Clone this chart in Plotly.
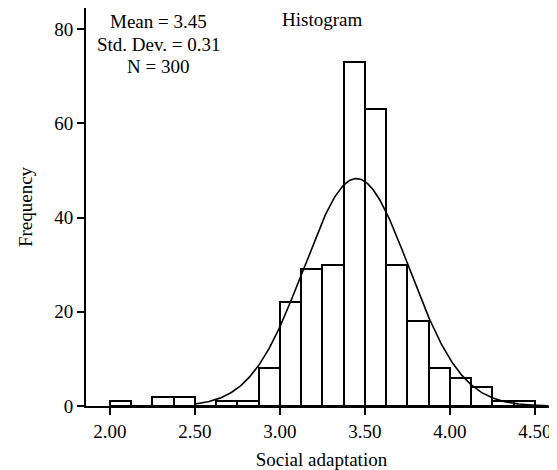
import numpy as np
import plotly.graph_objects as go

# Histogram bins (left edges) and counts
bin_width = 0.125
bin_lefts = [2.0, 2.125, 2.25, 2.375, 2.5, 2.625, 2.75, 2.875, 3.0, 3.125, 3.25,
             3.375, 3.5, 3.625, 3.75, 3.875, 4.0, 4.125, 4.25, 4.375]
counts = [1, 0, 2, 2, 0, 1, 1, 8, 22, 29, 30, 73, 63, 30, 18, 8, 6, 4, 1, 1]

mean_val = 3.45
sd_val = 0.31
n_val = 300

stats_lines = ["Mean = 3.45", "Std. Dev. = 0.31", "N = 300"]

x_ticks = [2.0, 2.5, 3.0, 3.5, 4.0, 4.5]
x_tick_labels = ["2.00", "2.50", "3.00", "3.50", "4.00", "4.50"]
y_ticks = [0, 20, 40, 60, 80]

centers = [l + bin_width / 2 for l in bin_lefts]

# fitted normal curve from the stated mean / sd / N
xc = np.linspace(2.5, 4.58, 300)
yc = n_val * bin_width / (sd_val * np.sqrt(2 * np.pi)) * np.exp(-0.5 * ((xc - mean_val) / sd_val) ** 2)

font = dict(family="Liberation Serif", size=19, color="black")

fig = go.Figure()
fig.add_trace(go.Bar(x=centers, y=counts, width=bin_width,
                     marker=dict(color="white", line=dict(color="black", width=2)),
                     showlegend=False))
fig.add_trace(go.Scatter(x=xc, y=yc, mode="lines",
                         line=dict(color="black", width=1.6), showlegend=False))

stat_y = [0.967, 0.9095, 0.852]
annotations = [dict(text="Histogram", x=0.501, y=1.0, xref="paper", yref="paper",
                    showarrow=False, font=font, xanchor="center", yanchor="top",
                    borderpad=0)]
for txt, yy in zip(stats_lines, stat_y):
    annotations.append(dict(text=txt, x=0.153, y=yy, xref="paper", yref="paper",
                            showarrow=False, font=font, xanchor="center",
                            yanchor="middle"))

fig.update_layout(
    width=549, height=462,
    margin=dict(l=78, r=0, t=0, b=64),
    plot_bgcolor="white", paper_bgcolor="white",
    font=font, bargap=0,
    xaxis=dict(range=[1.859, 4.630], tickvals=x_ticks, ticktext=x_tick_labels,
               showgrid=False, zeroline=False, showline=True, linecolor="black",
               linewidth=2, ticks="outside", ticklen=7, tickwidth=2, tickcolor="black",
               tickfont=font,
               title=dict(text="Social adaptation", font=font, standoff=12)),
    yaxis=dict(range=[0, 84.46], tickvals=y_ticks, showgrid=False, zeroline=False,
               showline=True, linecolor="black", linewidth=2, ticks="outside",
               ticklen=7, tickwidth=2, tickcolor="black", tickfont=font,
               title=dict(text="Frequency", font=font, standoff=17)),
    annotations=annotations,
)

fig.write_html("out.html")
